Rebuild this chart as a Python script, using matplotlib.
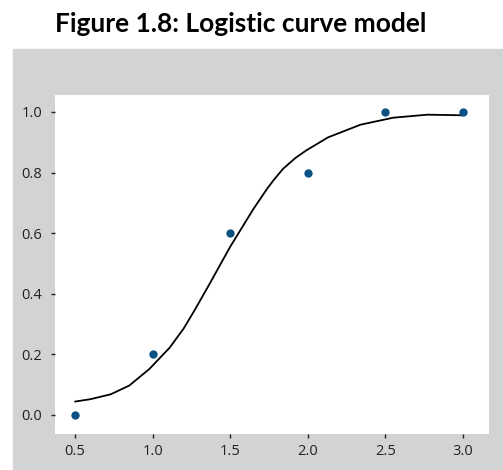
import numpy as np
import matplotlib
matplotlib.use("Agg")
import matplotlib.pyplot as plt
import matplotlib.patches as mpatches

# observed data
obs_x = [0.5, 1.0, 1.5, 2.0, 2.5, 3.0]
obs_y = [0.0, 0.2, 0.6, 0.8, 1.0, 1.0]

# fitted curve
fit_x = [0.50, 0.60, 0.73, 0.85, 0.98, 1.11, 1.20, 1.27, 1.37, 1.50, 1.65,
         1.74, 1.78, 1.84, 1.92, 1.99, 2.13, 2.34, 2.55, 2.77, 3.00]
fit_y = [0.044, 0.052, 0.068, 0.097, 0.152, 0.222, 0.285, 0.345, 0.435, 0.555, 0.680,
         0.748, 0.775, 0.812, 0.848, 0.873, 0.916, 0.958, 0.981, 0.991, 0.989]

x_ticks = [0.5, 1.0, 1.5, 2.0, 2.5, 3.0]
y_ticks = [0.0, 0.2, 0.4, 0.6, 0.8, 1.0]

GRAY = "#d2d3d5"
DOT = "#0b5282"

plt.rcParams["font.family"] = ["Open Sans", "DejaVu Sans"]

W, H = 503, 470
fig = plt.figure(figsize=(W / 100, H / 100), dpi=100, facecolor="white")
fig.patches.append(mpatches.Rectangle((13 / W, 0), 1 - 13 / W, 1 - 49 / H,
                                      transform=fig.transFigure, color=GRAY, zorder=-10))

ax = fig.add_axes([55 / W, 36 / H, 434 / W, 339 / H])
ax.set_zorder(5)
ax.set_facecolor("white")
ax.plot(fit_x, fit_y, color="black", linewidth=1.3, zorder=2,
        solid_joinstyle="round", solid_capstyle="round")
ax.scatter(obs_x, obs_y, s=36, color=DOT, zorder=3, linewidths=0)

ax.set_xlim(0.371, 3.168)
ax.set_ylim(-0.063, 1.056)
ax.set_xticks(x_ticks)
ax.set_xticklabels([f"{v:.1f}" for v in x_ticks])
ax.set_yticks(y_ticks)
ax.set_yticklabels([f"{v:.1f}" for v in y_ticks])
ax.tick_params(direction="out", length=3, width=1, color="#222222",
               labelsize=10.5, labelcolor="#222222")
ax.tick_params(axis="y", pad=6)
ax.tick_params(axis="x", pad=4)
for s in ax.spines.values():
    s.set_visible(False)

fig.text(0.478, 1 - 24 / H, "Figure 1.8: Logistic curve model", ha="center", va="center",
         fontsize=19, fontweight="bold", color="black", family=["Lato", "DejaVu Sans"])

fig.savefig("out.png", dpi=100, facecolor="white")
